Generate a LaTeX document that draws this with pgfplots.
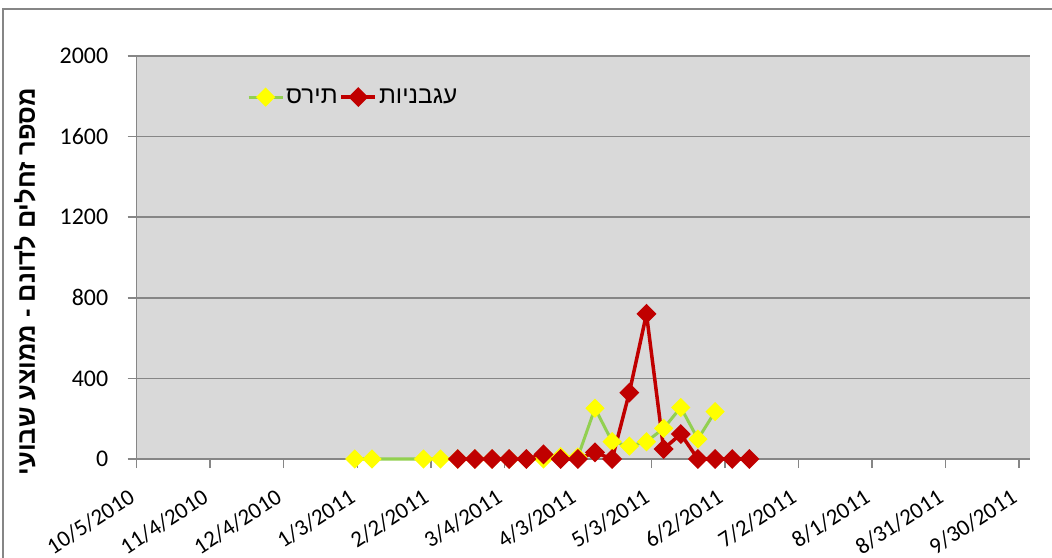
\documentclass[border=0pt]{standalone}
\usepackage{pgfplots}
\usepackage{pgfplotstable}
\pgfplotsset{compat=1.18}
\usepackage{fontspec}
\setmainfont{Carlito}
\newfontfamily\hebfont[Script=Hebrew]{Liberation Sans}
\TeXXeTstate=1
\definecolor{bgcol}{RGB}{217,217,217}
\definecolor{gridcol}{RGB}{134,134,134}
\definecolor{corngreen}{RGB}{146,208,80}
\definecolor{cornyellow}{RGB}{255,255,0}
\definecolor{tomred}{RGB}{192,0,0}

% day = days after 10/5/2010
\pgfplotstableread{
day val
89 0
96 0
117 0
124 0
131 0
138 0
145 0
152 0
159 0
166 0
173 12
180 10
187 252
194 86
201 64
208 86
215 152
222 256
229 99
236 235
}\corn

\pgfplotstableread{
day val
131 0
138 0
145 0
152 0
159 0
166 23
173 0
180 0
187 33
194 0
201 329
208 720
215 50
222 124
229 0
236 0
243 0
250 0
}\tomato

\begin{document}
\begin{tikzpicture}
\useasboundingbox (0,0) rectangle (1052bp,558bp);
\draw[line width=1.5bp, gridcol] (3bp,-10bp) -- (3bp,549bp) -- (1070bp,549bp);
\begin{axis}[
  at={(136.7bp,99bp)}, anchor=south west,
  width=893.3bp, height=403bp, scale only axis,
  xmin=0, xmax=364.5, ymin=0, ymax=2000,
  clip=false,
  axis lines*=left,
  axis line style={-, gridcol, line width=1.5bp},
  axis background/.style={fill=bgcol},
  ymajorgrids,
  grid style={gridcol, line width=1.5bp},
  tick align=outside,
  major tick length=9bp,
  tick style={gridcol, line width=1.5bp},
  xtick={0,30,...,360},
  xticklabels={10/5/2010,11/4/2010,12/4/2010,1/3/2011,2/2/2011,3/4/2011,4/3/2011,5/3/2011,6/2/2011,7/2/2011,8/1/2011,8/31/2011,9/30/2011},
  ytick={0,400,...,2000},
  tick label style={font=\fontsize{24}{28}\selectfont},
  xticklabel style={font=\fontsize{23}{27}\selectfont, rotate=33, anchor=north east, yshift=-8bp, xshift=-15bp},
  /pgf/number format/assume math mode=true,
  yticklabel style={/pgf/number format/1000 sep={}, xshift=-16bp},
  ylabel={\hebfont\bfseries\beginR מספר זחלים לדונם - ממוצע שבועי\endR},
  ylabel style={font=\fontsize{25.5}{29}\selectfont, at={(axis description cs:-0.125,0.44)}, anchor=center},
  legend style={draw=none, fill=none, at={(rel axis cs:0.12,0.898)}, anchor=west,
    font=\fontsize{24.5}{28}\selectfont, column sep=0bp, nodes={inner sep=2bp}},
  legend columns=2,
  legend image code/.code={\draw[mark repeat=2,mark phase=2,#1] plot coordinates {(0bp,0bp) (17bp,0bp) (34bp,0bp)};},
]
\addplot[corngreen, line width=3bp, mark=square*, mark size=5.3bp,
  mark options={solid, fill=cornyellow, draw=cornyellow, rotate=45}] table[x=day,y=val] {\corn};
\addlegendentry{\hebfont\beginR תירס\endR}
\addplot[tomred, line width=3.5bp, mark=square*, mark size=5.3bp,
  mark options={solid, fill=tomred, draw=tomred, rotate=45}] table[x=day,y=val] {\tomato};
\addlegendentry{\hebfont\beginR עגבניות\endR}
\end{axis}
\end{tikzpicture}
\end{document}
